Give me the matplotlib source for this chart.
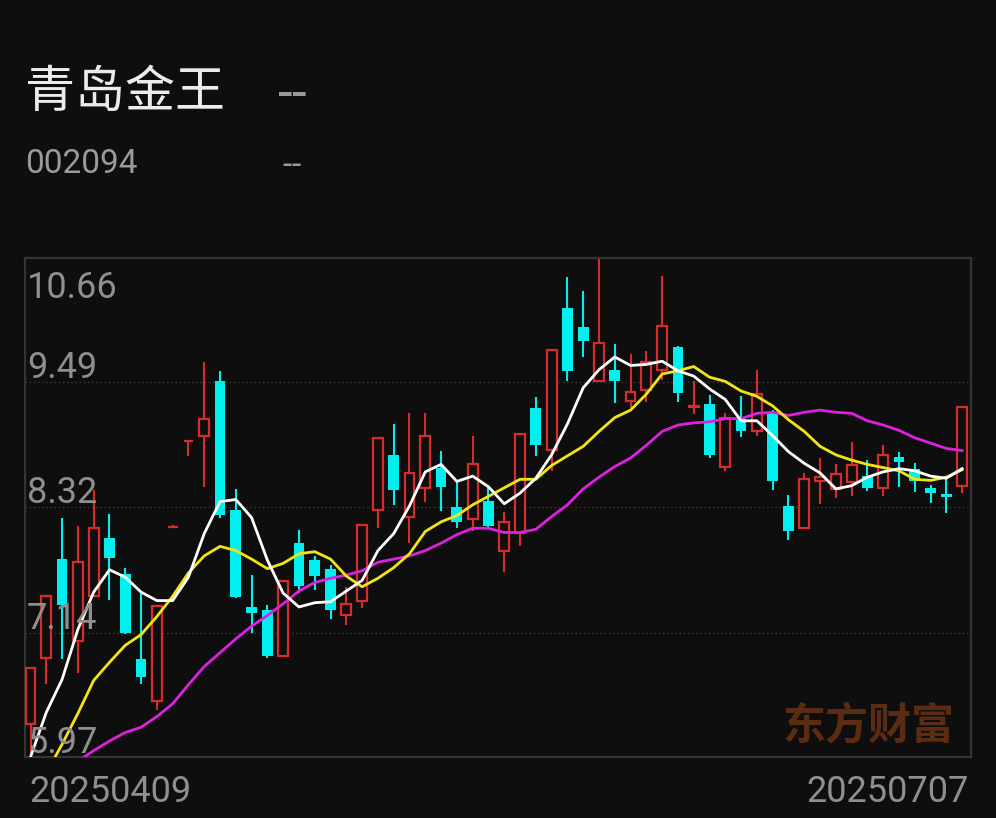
import matplotlib
matplotlib.use('Agg')
import matplotlib.pyplot as plt
import numpy as np

plt.rcParams['font.family'] = ['Roboto', 'Noto Sans CJK SC', 'DejaVu Sans']

# ---------------- data ----------------
stock_name = '青岛金王'
stock_code = '002094'
start_date = '20250409'
end_date = '20250707'
watermark = '东方财富'
y_ticks = [10.66, 9.49, 8.32, 7.14, 5.97]

opens = [6.28, 6.90, 7.83, 7.06, 7.48, 8.03, 7.69, 6.89, 6.50, 8.13,
         8.94, 8.99, 9.50, 8.29, 7.38, 7.35, 6.92, 7.98, 7.82, 7.74,
         7.30, 7.44, 8.29, 8.81, 8.23, 8.50, 8.69, 8.32, 8.21, 8.38,
         7.91, 8.08, 9.25, 8.86, 10.19, 10.01, 9.50, 9.61, 9.32, 9.42,
         9.61, 9.82, 9.26, 9.29, 8.70, 9.15, 9.03, 9.21, 8.33, 8.12,
         8.56, 8.49, 8.55, 8.61, 8.50, 8.79, 8.68, 8.50, 8.44, 8.52]
highs = [6.81, 7.49, 8.22, 8.14, 8.48, 8.25, 7.75, 7.52, 7.39, 8.15,
         8.94, 9.68, 9.60, 8.49, 7.68, 7.40, 7.62, 8.10, 7.86, 7.77,
         7.57, 8.15, 8.97, 9.10, 9.20, 9.20, 8.85, 8.56, 8.99, 8.53,
         8.27, 9.01, 9.35, 9.80, 10.48, 10.35, 10.66, 9.85, 9.76, 9.79,
         10.49, 9.83, 9.50, 9.37, 9.20, 9.36, 9.61, 9.23, 8.43, 8.64,
         8.78, 8.72, 8.93, 8.76, 8.90, 8.84, 8.73, 8.53, 8.59, 9.26]
lows = [5.97, 6.66, 6.89, 6.76, 7.48, 7.45, 7.13, 6.66, 6.41, 8.12,
        8.80, 8.51, 8.22, 7.46, 7.14, 6.90, 6.92, 7.51, 7.54, 7.27,
        7.21, 7.37, 8.12, 8.34, 7.98, 8.37, 8.28, 8.12, 8.09, 8.13,
        7.71, 7.95, 8.80, 8.66, 9.50, 9.73, 9.49, 9.30, 9.25, 9.31,
        9.51, 9.31, 9.19, 8.78, 8.66, 8.98, 8.99, 8.48, 8.01, 8.11,
        8.35, 8.40, 8.42, 8.47, 8.42, 8.51, 8.46, 8.36, 8.26, 8.45]
closes = [6.81, 7.48, 7.40, 7.80, 8.12, 7.84, 7.14, 6.72, 7.39, 8.13,
          8.94, 9.15, 8.24, 7.47, 7.32, 6.92, 7.62, 7.58, 7.67, 7.35,
          7.41, 8.15, 8.97, 8.48, 8.64, 8.99, 8.51, 8.18, 8.72, 8.14,
          8.18, 9.01, 8.90, 9.80, 9.60, 9.88, 9.86, 9.50, 9.40, 9.68,
          10.02, 9.39, 9.27, 8.81, 9.16, 9.03, 9.38, 8.56, 8.09, 8.58,
          8.60, 8.63, 8.71, 8.50, 8.81, 8.74, 8.56, 8.45, 8.41, 9.26]

ma5 = [5.97, 6.39, 6.70, 7.17, 7.52, 7.73, 7.66, 7.52, 7.44, 7.44,
       7.66, 8.07, 8.37, 8.39, 8.22, 7.82, 7.51, 7.38, 7.42, 7.43,
       7.53, 7.63, 7.91, 8.07, 8.33, 8.65, 8.72, 8.56, 8.61, 8.51,
       8.35, 8.45, 8.59, 8.81, 9.10, 9.44, 9.61, 9.73, 9.65, 9.66,
       9.69, 9.60, 9.55, 9.43, 9.33, 9.13, 9.13, 8.99, 8.84, 8.73,
       8.64, 8.49, 8.52, 8.60, 8.65, 8.68, 8.66, 8.61, 8.59, 8.68]
ma10 = [5.55, 5.82, 6.09, 6.38, 6.69, 6.86, 7.02, 7.12, 7.29, 7.48,
        7.70, 7.86, 7.95, 7.91, 7.83, 7.74, 7.79, 7.88, 7.90, 7.83,
        7.67, 7.57, 7.65, 7.75, 7.88, 8.09, 8.18, 8.24, 8.34, 8.42,
        8.50, 8.58, 8.58, 8.71, 8.80, 8.89, 9.03, 9.16, 9.23, 9.38,
        9.57, 9.60, 9.64, 9.54, 9.50, 9.41, 9.36, 9.27, 9.14, 9.03,
        8.89, 8.81, 8.76, 8.72, 8.69, 8.66, 8.58, 8.57, 8.60, 8.67]
ma20 = [5.60, 5.72, 5.83, 5.93, 6.03, 6.12, 6.20, 6.25, 6.35, 6.47,
        6.65, 6.82, 6.95, 7.08, 7.20, 7.30, 7.41, 7.53, 7.61, 7.65,
        7.68, 7.72, 7.80, 7.83, 7.86, 7.91, 7.98, 8.06, 8.12, 8.12,
        8.08, 8.08, 8.11, 8.23, 8.34, 8.49, 8.60, 8.70, 8.78, 8.90,
        9.03, 9.09, 9.11, 9.12, 9.15, 9.15, 9.20, 9.21, 9.18, 9.21,
        9.23, 9.21, 9.20, 9.13, 9.09, 9.04, 8.97, 8.92, 8.87, 8.85]

# ---------------- style ----------------
W, H = 996, 818
BG = '#0e0e0e'
RED = '#d82c2c'
CYAN = '#00f0f0'
GRID = '#3a3a3a'
BORDER = '#343434'
LABEL = '#8f8f8f'

fig = plt.figure(figsize=(W / 100, H / 100), dpi=100, facecolor=BG)


def ft(xpx, ypx, s, **kw):
    return fig.text(xpx / W, 1 - ypx / H, s, **kw)


ax = fig.add_axes([25 / W, 61 / H, 946 / W, 499 / H])
ax.set_facecolor(BG)
ax.set_xlim(-0.35, 59.56)
ax.set_ylim(min(y_ticks), max(y_ticks))
ax.set_xticks([])
ax.set_yticks([])
for sp in ax.spines.values():
    sp.set_color(BORDER)
    sp.set_linewidth(1.6)

for v in y_ticks[1:-1]:
    ax.axhline(v, color=GRID, lw=1.0, ls=(0, (1, 2)), zorder=1)

x = np.arange(len(closes))
o = np.array(opens)
h = np.array(highs)
l = np.array(lows)
c = np.array(closes)
up = c >= o
dn = ~up

# falling candles: filled cyan
ax.vlines(x[dn], l[dn], h[dn], color=CYAN, lw=1.5, zorder=2)
ax.bar(x[dn], (o - c)[dn], bottom=c[dn], width=0.68, color=CYAN,
       linewidth=0, zorder=3)

# rising candles: hollow red
ax.vlines(x[up], c[up], h[up], color=RED, lw=1.5, zorder=2)
ax.vlines(x[up], l[up], o[up], color=RED, lw=1.5, zorder=2)
ax.bar(x[up], (c - o)[up], bottom=o[up], width=0.62, facecolor=BG,
       edgecolor=RED, linewidth=1.6, zorder=3)

# moving averages
ax.plot(x, ma20, color='#e020e0', lw=2.0, zorder=4)
ax.plot(x, ma10, color='#f2e512', lw=2.0, zorder=4)
ax.plot(x, ma5, color='#ffffff', lw=2.0, zorder=5)

# y value labels inside plot
for i, v in enumerate(y_ticks):
    dy = -40 if i == 0 else 4
    ax.annotate(f'{v:.2f}', xy=(0, v), xycoords=('axes fraction', 'data'),
                xytext=(2, dy), textcoords='offset pixels',
                ha='left', va='baseline', fontsize=26, color=LABEL,
                zorder=6)

# header
ft(25, 107, stock_name, fontsize=36, color='#ececec',
   family=['Noto Sans CJK SC', 'DejaVu Sans'], va='baseline', ha='left')
for xp in (278, 292):
    ft(xp, 110, '-', fontsize=38, color='#9a9a9a', va='baseline', ha='left')
ft(25, 173, stock_code, fontsize=24, color='#9a9a9a', va='baseline', ha='left')
for xp in (282, 291):
    ft(xp, 174.5, '-', fontsize=24, color='#9a9a9a', va='baseline', ha='left')

# date labels
ft(29, 802, start_date, fontsize=26, color=LABEL, va='baseline', ha='left')
ft(969, 802, end_date, fontsize=26, color=LABEL, va='baseline', ha='right')

# watermark
ft(782, 739, watermark, fontsize=31, color='#5a2d12', fontweight='bold',
   family=['Noto Sans CJK SC', 'DejaVu Sans'], va='baseline', ha='left')

fig.savefig('out.png', dpi=100, facecolor=BG)
